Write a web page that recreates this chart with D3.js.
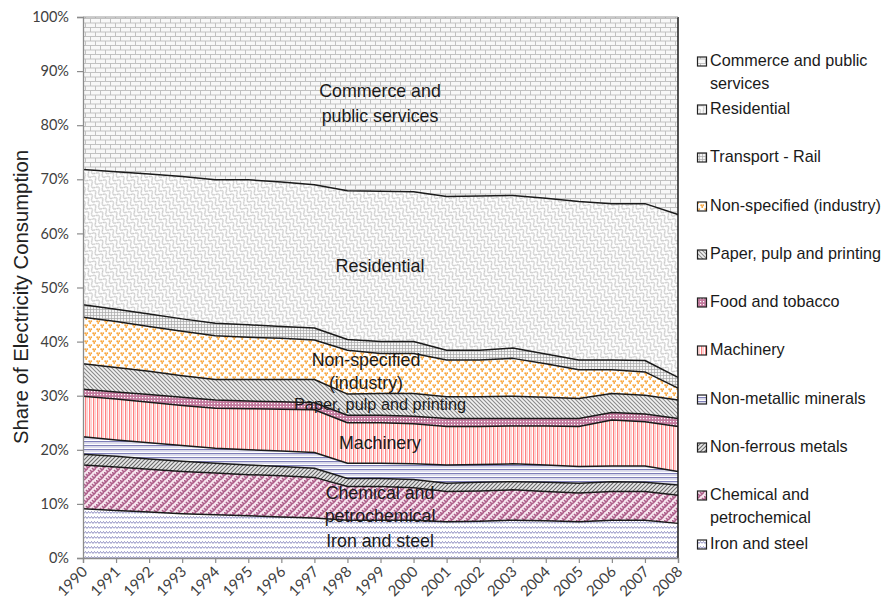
<!DOCTYPE html>
<html><head><meta charset="utf-8">
<script src="https://cdn.jsdelivr.net/npm/d3@7/dist/d3.min.js"></script>
<style>
html,body{margin:0;padding:0;background:#fff;}
svg{display:block;}
</style></head>
<body>
<svg id="chart" width="884" height="608"></svg>
<script>
const years = [1990,1991,1992,1993,1994,1995,1996,1997,1998,1999,2000,2001,2002,2003,2004,2005,2006,2007,2008];
const seriesNames = ["Iron and steel","Chemical and petrochemical","Non-ferrous metals","Non-metallic minerals","Machinery","Food and tobacco","Paper, pulp and printing","Non-specified (industry)","Transport - Rail","Residential","Commerce and public services"];
const ironSteel    = [9.1,8.8,8.5,8.2,8.0,7.8,7.6,7.4,7.0,7.0,7.0,6.7,6.8,7.0,6.9,6.7,7.0,7.0,6.4];
const chemical     = [8.1,8.0,7.9,7.8,7.7,7.6,7.6,7.5,6.2,6.2,6.0,5.6,5.6,5.6,5.4,5.3,5.3,5.3,5.2];
const nonFerrous   = [2.0,2.0,1.9,1.9,1.8,1.8,1.7,1.7,1.5,1.5,1.5,1.5,1.6,1.5,1.7,1.8,1.8,1.7,1.9];
const nonMetallic  = [3.2,3.0,3.0,2.9,2.8,2.8,2.9,2.9,2.8,2.8,2.9,3.4,3.3,3.3,3.2,3.1,2.9,3.0,2.5];
const machinery    = [7.5,7.6,7.5,7.4,7.4,7.6,7.7,7.9,7.5,7.5,7.4,7.1,7.0,7.0,7.2,7.4,8.5,8.2,8.3];
const foodTobacco  = [1.3,1.3,1.4,1.5,1.5,1.4,1.4,1.3,1.4,1.4,1.4,1.5,1.5,1.4,1.4,1.5,1.4,1.4,1.5];
const paperPulp    = [4.7,4.5,4.3,4.0,3.8,4.0,4.1,4.3,3.9,4.0,4.2,4.0,4.0,4.1,3.9,3.7,3.5,3.5,3.4];
const nonSpecified = [8.6,8.5,8.3,8.2,8.1,7.8,7.6,7.3,8.1,7.4,7.4,6.8,6.8,7.0,6.2,5.3,4.4,4.3,2.2];
const transportRail= [2.3,2.3,2.3,2.3,2.3,2.3,2.2,2.2,2.0,2.2,2.2,1.8,1.8,1.9,1.8,1.8,1.8,2.1,2.0];
const residential  = [25.0,25.4,25.9,26.3,26.5,26.8,26.7,26.5,27.5,27.8,27.7,28.4,28.5,28.2,28.8,29.3,28.9,29.0,30.1];
const commerce     = [28.2,28.6,29.0,29.5,30.1,30.1,30.5,31.0,32.1,32.2,32.3,33.2,33.1,33.0,33.5,34.1,34.5,34.5,36.5];
const yTicks = [0,10,20,30,40,50,60,70,80,90,100];

const seriesValues = [ironSteel,chemical,nonFerrous,nonMetallic,machinery,foodTobacco,paperPulp,nonSpecified,transportRail,residential,commerce];
const table = years.map((yr,i)=>{const o={year:yr}; seriesNames.forEach((n,k)=>o[n]=seriesValues[k][i]); return o;});

const svg = d3.select("#chart");
const x = d3.scaleLinear().domain([1990,2008]).range([83,678]);
const y = d3.scaleLinear().domain([0,100]).range([558,17]);

const defs = svg.append("defs");
function pat(id,w,h,build,transform){
  const p = defs.append("pattern").attr("id",id).attr("patternUnits","userSpaceOnUse").attr("width",w).attr("height",h);
  if(transform) p.attr("patternTransform",transform);
  build(p); return "url(#"+id+")";
}
const fills = [];
fills[0] = pat("pIron",6,5,p=>{
  p.append("rect").attr("width",6).attr("height",5).attr("fill","#fff");
  p.append("path").attr("d","M0,3.5 L1.5,1.5 L3,3.5 L4.5,1.5 L6,3.5").attr("stroke","#8282bc").attr("stroke-width",0.9).attr("fill","none");
});
fills[1] = pat("pChem",8,8,p=>{
  p.append("rect").attr("width",8).attr("height",8).attr("fill","#f6e4ee");
  p.append("path").attr("d","M0,4 L4,0 M4,8 L8,4 M0,0 L2,2 M4,4 L6,6 M2,6 L4,8 M6,2 L8,4").attr("stroke","#ad5d89").attr("stroke-width",1.6).attr("fill","none");
});
fills[2] = pat("pNF",4,4,p=>{
  p.append("rect").attr("width",4).attr("height",4).attr("fill","#e8e8e8");
  p.append("path").attr("d","M-1,1 L1,-1 M0,4 L4,0 M3,5 L5,3").attr("stroke","#6a6a6a").attr("stroke-width",1.1);
});
fills[3] = pat("pNM",4,4,p=>{
  p.append("rect").attr("width",4).attr("height",4).attr("fill","#fff");
  p.append("rect").attr("y",1).attr("width",4).attr("height",1.3).attr("fill","#7e7eb8");
  p.append("rect").attr("y",3).attr("width",4).attr("height",0.6).attr("fill","#c8c8e4");
});
fills[4] = pat("pMach",4,4,p=>{
  p.append("rect").attr("width",4).attr("height",4).attr("fill","#fff");
  p.append("rect").attr("x",1).attr("width",1.3).attr("height",4).attr("fill","#ff8080");
  p.append("rect").attr("x",3).attr("width",0.8).attr("height",4).attr("fill","#ffc4c4");
});
fills[5] = pat("pFood",3,3,p=>{
  p.append("rect").attr("width",3).attr("height",3).attr("fill","#c47a9e");
  p.append("rect").attr("x",1).attr("y",1).attr("width",1.2).attr("height",1.2).attr("fill","#fff");
});
fills[6] = pat("pPaper",4,4,p=>{
  p.append("rect").attr("width",4).attr("height",4).attr("fill","#f2f2f2");
  p.append("path").attr("d","M-1,3 L1,5 M0,0 L4,4 M3,-1 L5,1").attr("stroke","#8a8a8a").attr("stroke-width",1.1);
});
fills[7] = pat("pNS",8,8,p=>{
  p.append("rect").attr("width",8).attr("height",8).attr("fill","#fff");
  [[1.2,1.2],[3.2,1.2],[2.2,3],[5.2,5.2],[7.2,5.2],[6.2,7]].forEach(d=>p.append("circle").attr("cx",d[0]).attr("cy",d[1]).attr("r",0.95).attr("fill","#f9a53a"));
});
fills[8] = pat("pRail",3,3,p=>{
  p.append("rect").attr("width",3).attr("height",3).attr("fill","#f4f4f4");
  p.append("path").attr("d","M0,0.5 H3 M0.5,0 V3").attr("stroke","#a8a8a8").attr("stroke-width",0.7);
});
fills[9] = pat("pRes",10,10,p=>{
  p.append("rect").attr("width",10).attr("height",10).attr("fill","#fff");
  p.append("path").attr("d","M0,5 Q2.5,0 5,5 Q7.5,10 10,5 M0,10 Q2.5,5 5,10 M5,0 Q7.5,5 10,0").attr("stroke","#c2c2c2").attr("stroke-width",1.2).attr("fill","none");
},"rotate(45)");
fills[10] = pat("pCom",10,9,p=>{
  p.append("rect").attr("width",10).attr("height",9).attr("fill","#f8f8f8");
  p.append("path").attr("d","M0,0.5 H10 M0,5 H10 M0.5,0.5 V5 M5.5,5 V9").attr("stroke","#bcbcbc").attr("stroke-width",0.9).attr("fill","none");
});

const stack = d3.stack().keys(seriesNames);
const layers = stack(table);

const area = d3.area().x(d=>x(d.data.year)).y0(d=>y(d[0])).y1(d=>y(d[1]));
const line = d3.line().x(d=>x(d.data.year)).y(d=>y(d[1]));

svg.append("g").selectAll("path.area").data(layers).join("path")
  .attr("class","area").attr("d",area).attr("fill",(d,i)=>fills[i]).attr("stroke","none");

svg.append("g").selectAll("path.top").data(layers.slice(0,-1)).join("path")
  .attr("d",line).attr("fill","none").attr("stroke","#1a1a1a").attr("stroke-width",1.5).attr("stroke-linejoin","round");

svg.append("line").attr("x1",x(2008)).attr("x2",x(2008)).attr("y1",y(0)).attr("y2",y(100)).attr("stroke","#1a1a1a").attr("stroke-width",1.5);
svg.append("line").attr("x1",x(1990)).attr("x2",x(2008)).attr("y1",y(100)).attr("y2",y(100)).attr("stroke","#9a9a9a").attr("stroke-width",1);

const tickFont = "Lato, 'Liberation Sans', sans-serif";
const yAxis = d3.axisLeft(y).tickValues(yTicks).tickFormat(d=>d+"%").tickSize(6).tickPadding(8);
const gy = svg.append("g").attr("transform",`translate(${x(1990)},0)`).call(yAxis);
gy.select(".domain").attr("stroke","#8c8c8c").attr("stroke-width",1.3);
gy.selectAll(".tick line").attr("stroke","#8c8c8c").attr("stroke-width",1.2);
gy.selectAll(".tick text").attr("font-family",tickFont).attr("font-size",14.5).attr("fill","#404040");

const xAxis = d3.axisBottom(x).tickValues(years).tickFormat(d3.format("d")).tickSize(5);
const gx = svg.append("g").attr("transform",`translate(0,${y(0)})`).call(xAxis);
gx.select(".domain").attr("stroke","#8c8c8c").attr("stroke-width",1.3);
gx.selectAll(".tick line").attr("stroke","#8c8c8c").attr("stroke-width",1.2);
gx.selectAll(".tick text").attr("font-family",tickFont).attr("font-size",15).attr("fill","#404040")
  .attr("text-anchor","end").attr("dy",null).attr("x",-7).attr("y",10).attr("dominant-baseline","middle")
  .attr("transform","rotate(-45)");

const labelFont = "'Liberation Sans', Arial, sans-serif";
svg.append("text").attr("transform","translate(23,297) rotate(-90)").attr("text-anchor","middle")
  .attr("dominant-baseline","middle")
  .attr("font-family",labelFont).attr("font-size",20.3).attr("fill","#222")
  .text("Share of Electricity Consumption");

const inLabels = [
  {lines:["Commerce and","public services"], x:380, y:92, dy:25, size:17.8},
  {lines:["Residential"], x:380, y:267, dy:0, size:18},
  {lines:["Non-specified","(industry)"], x:366, y:361, dy:23, size:17.8},
  {lines:["Paper, pulp and printing"], x:380, y:406, dy:0, size:16.3},
  {lines:["Machinery"], x:380, y:444, dy:0, size:17.8},
  {lines:["Chemical and","petrochemical"], x:380, y:494, dy:23, size:17.8},
  {lines:["Iron and steel"], x:380, y:542, dy:0, size:17.8}
];
inLabels.forEach(l=>{
  l.lines.forEach((t,j)=>svg.append("text").attr("x",l.x).attr("y",l.y+j*l.dy).attr("text-anchor","middle")
    .attr("dominant-baseline","middle").attr("font-family",labelFont).attr("font-size",l.size).attr("fill","#1a1a1a").text(t));
});

const legendItems = [
  {k:10, lines:["Commerce and public","services"], y:62},
  {k:9, lines:["Residential"], y:110},
  {k:8, lines:["Transport - Rail"], y:158},
  {k:7, lines:["Non-specified (industry)"], y:207},
  {k:6, lines:["Paper, pulp and printing"], y:255},
  {k:5, lines:["Food and tobacco"], y:303},
  {k:4, lines:["Machinery"], y:351},
  {k:3, lines:["Non-metallic minerals"], y:400},
  {k:2, lines:["Non-ferrous metals"], y:448},
  {k:1, lines:["Chemical and","petrochemical"], y:496},
  {k:0, lines:["Iron and steel"], y:545}
];
const lg = svg.append("g");
legendItems.forEach(it=>{
  lg.append("rect").attr("x",697.5).attr("y",it.y-5).attr("width",9).attr("height",9)
    .attr("fill",fills[it.k]).attr("stroke","#222").attr("stroke-width",1.2);
  it.lines.forEach((t,j)=>lg.append("text").attr("x",710).attr("y",it.y+j*23).attr("dominant-baseline","middle")
    .attr("font-family",labelFont).attr("font-size",16.2).attr("fill","#1a1a1a").text(t));
});
</script>
</body></html>
